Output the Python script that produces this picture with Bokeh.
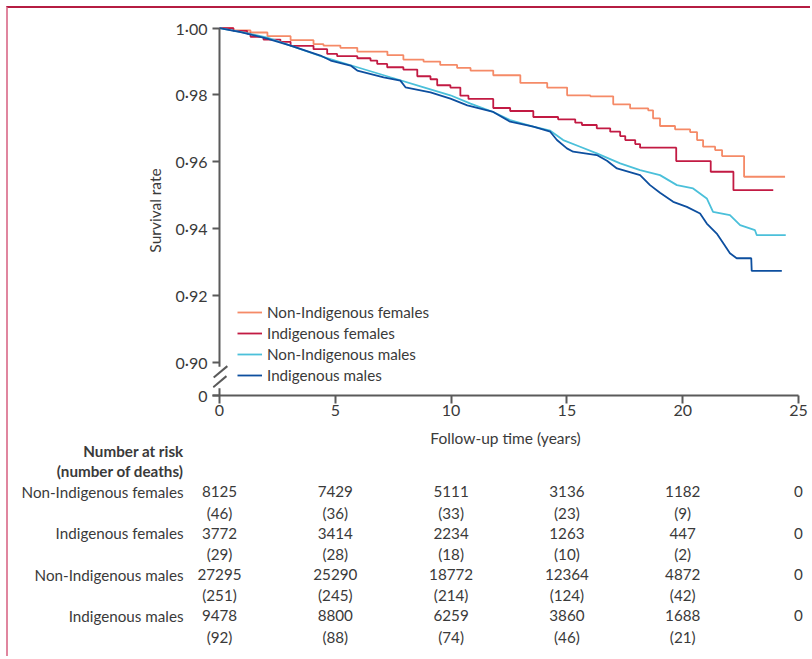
from bokeh.plotting import figure
from bokeh.models import (Range1d, FixedTicker, CustomJSTickFormatter, Legend,
                          LegendItem, ColumnDataSource)
from bokeh.embed import file_html
from bokeh.resources import INLINE
from bokeh.core.properties import value

# ---------------- data ----------------
groups = ["Non-Indigenous females", "Indigenous females",
          "Non-Indigenous males", "Indigenous males"]
colors = ["#f58a67", "#c21a43", "#4bc0da", "#0d4f9f"]

nif_t = [0, 0.6, 1.34, 2.07, 3.07, 4.06, 4.49, 5.22, 5.95, 7.25, 7.94, 8.81, 9.53,
         10.26, 10.84, 11.82, 12.99, 14.15, 15.01, 16.01, 17.00, 17.73, 18.51, 18.72,
         19.02, 19.67, 20.32, 20.62, 20.88, 21.40, 21.70, 22.65, 24.42]
nif_s = [1.0, 0.9993, 0.9987, 0.9976, 0.9964, 0.9952, 0.9948, 0.9941, 0.9930, 0.9919,
         0.9906, 0.9900, 0.9890, 0.9881, 0.9873, 0.9859, 0.9836, 0.9822, 0.9799, 0.9796,
         0.9772, 0.9760, 0.9754, 0.9730, 0.9707, 0.9697, 0.9689, 0.9665, 0.9645, 0.9635,
         0.9617, 0.9555, 0.9555]

if_t = [0, 0.6, 1.19, 1.34, 1.90, 2.63, 3.07, 4.06, 4.65, 5.08, 5.95, 6.52, 6.81, 7.24,
        7.94, 8.54, 9.11, 9.40, 9.97, 10.40, 10.75, 11.82, 12.55, 13.55, 14.62, 15.36,
        15.65, 16.29, 16.87, 17.30, 17.52, 17.95, 18.16, 19.72, 21.21, 22.19, 23.91]
if_s = [1.0, 0.9992, 0.9984, 0.9974, 0.9966, 0.9959, 0.9947, 0.9937, 0.9923, 0.9916,
        0.9910, 0.9903, 0.9893, 0.9883, 0.9876, 0.9856, 0.9847, 0.9829, 0.9822, 0.9798,
        0.9788, 0.9761, 0.9752, 0.9734, 0.9727, 0.9717, 0.9710, 0.9700, 0.9690, 0.9677,
        0.9665, 0.9653, 0.9642, 0.9602, 0.9570, 0.9515, 0.9515]

nim_t = [0, 0.91, 2.06, 3.07, 4.50, 5.95, 7.38, 8.82, 9.97, 10.84, 11.82, 12.55, 13.55,
         14.28, 14.84, 15.57, 16.29, 17.30, 18.16, 19.02, 19.75, 20.45, 21.04, 21.31,
         22.04, 22.48, 23.12, 23.20, 24.45]
nim_s = [1.0, 0.9989, 0.9972, 0.9948, 0.9913, 0.9883, 0.9853, 0.9823, 0.9799, 0.9774,
         0.9749, 0.9725, 0.9705, 0.9693, 0.9665, 0.9645, 0.9625, 0.9595, 0.9575, 0.9560,
         0.9530, 0.9520, 0.9490, 0.9450, 0.9440, 0.9410, 0.9395, 0.9380, 0.9380]

im_t = [0, 0.91, 2.06, 3.07, 4.36, 4.80, 5.66, 5.95, 7.09, 7.81, 8.03, 9.11, 9.97,
        10.70, 11.82, 12.55, 13.55, 14.28, 14.57, 15.00, 15.27, 16.29, 16.73, 17.16,
        18.16, 18.59, 19.02, 19.59, 20.18, 20.75, 21.04, 21.47, 21.76, 22.04, 22.33,
        22.96, 22.98, 24.28]
im_s = [1.0, 0.9988, 0.9969, 0.9948, 0.9918, 0.9903, 0.9888, 0.9873, 0.9853, 0.9843,
        0.9823, 0.9808, 0.9789, 0.9769, 0.9749, 0.9720, 0.9705, 0.9690, 0.9665, 0.9640,
        0.9630, 0.9620, 0.9603, 0.9580, 0.9560, 0.9530, 0.9507, 0.9480, 0.9465, 0.9445,
        0.9415, 0.9385, 0.9355, 0.9326, 0.9311, 0.9311, 0.9273, 0.9273]

x_ticks = [0, 5, 10, 15, 20, 25]
y_zero_pos = 0.89          # where "0" sits on the broken axis
y_ticks = [y_zero_pos, 0.90, 0.92, 0.94, 0.96, 0.98, 1.00]

risk_times = [0, 5, 10, 15, 20, 25]
death_times = [0, 5, 10, 15, 20]
nif_risk = [8125, 7429, 5111, 3136, 1182, 0]
nif_deaths = [46, 36, 33, 23, 9]
if_risk = [3772, 3414, 2234, 1263, 447, 0]
if_deaths = [29, 28, 18, 10, 2]
nim_risk = [27295, 25290, 18772, 12364, 4872, 0]
nim_deaths = [251, 245, 214, 124, 42]
im_risk = [9478, 8800, 6259, 3860, 1688, 0]
im_deaths = [92, 88, 74, 46, 21]
table_header = ["Number at risk", "(number of deaths)"]

# ---------------- styling / layout constants ----------------
FONT = "Lato"
TXT = "#3a3a3a"
AX = "#5a5a5a"
LEFT = 204
FRAME_W = 586
RIGHT = 14
TOP = 17
FRAME_H = 370
BOTTOM = 58
TOTAL_W = LEFT + FRAME_W + RIGHT
X_LO = -0.302
Y_HI = 1.0008
PPY = FRAME_W / (25 - X_LO)            # px per year

p = figure(width=TOTAL_W, height=TOP + FRAME_H + BOTTOM, output_backend="svg",
           toolbar_location=None, x_range=Range1d(X_LO, 25),
           y_range=Range1d(y_zero_pos, Y_HI),
           min_border_left=LEFT, min_border_right=RIGHT, min_border_top=TOP,
           min_border_bottom=BOTTOM,
           styles={"margin-left": "6px", "margin-top": "6px",
                   "border-top": "2px solid #b51c42",
                   "border-left": "2px solid #e0869f"})
p.outline_line_color = None
p.xgrid.visible = False
p.ygrid.visible = False

renderers = []
r = p.step(nif_t, nif_s, mode="after", line_color=colors[0], line_width=1.8)
renderers.append(r)
r = p.step(if_t, if_s, mode="after", line_color=colors[1], line_width=1.8)
renderers.append(r)
r = p.line(nim_t, nim_s, line_color=colors[2], line_width=1.8)
renderers.append(r)
r = p.line(im_t, im_s, line_color=colors[3], line_width=1.8)
renderers.append(r)

# y-axis line with break marks
p.segment(x0=[0, 0, -0.25, -0.27], y0=[1.0, 0.8922, 0.8954, 0.8925],
          x1=[0, 0, 0.34, 0.30], y1=[0.8986, y_zero_pos, 0.8988, 0.8958],
          line_color=AX, line_width=2)

xa = p.xaxis[0]
xa.ticker = FixedTicker(ticks=x_ticks)
xa.minor_tick_line_color = None
xa.major_tick_out = 8
xa.major_tick_in = 0
xa.axis_line_color = AX
xa.axis_line_width = 2
xa.major_tick_line_color = AX
xa.major_tick_line_width = 2
xa.major_label_text_font = FONT
xa.major_label_text_font_size = "16px"
xa.major_label_text_color = TXT
xa.major_label_standoff = 1
xa.axis_label = "Follow-up time (years)"
xa.axis_label_text_font = FONT
xa.axis_label_text_font_size = "15.5px"
xa.axis_label_text_font_style = "normal"
xa.axis_label_text_color = TXT
xa.axis_label_standoff = 10

ya = p.yaxis[0]
ya.ticker = FixedTicker(ticks=y_ticks)
ya.formatter = CustomJSTickFormatter(code="""
if (tick < 0.895) { return "0"; }
return tick.toFixed(2).replace(".", "\u00b7");
""")
ya.minor_tick_line_color = None
ya.major_tick_in = 7
ya.major_tick_out = 0
ya.axis_line_color = None
ya.major_tick_line_color = AX
ya.major_tick_line_width = 2
ya.major_label_text_font = FONT
ya.major_label_text_font_size = "16px"
ya.major_label_text_color = TXT
ya.major_label_standoff = 5
ya.axis_label = "Survival rate"
ya.axis_label_text_font = FONT
ya.axis_label_text_font_size = "15.5px"
ya.axis_label_text_font_style = "normal"
ya.axis_label_text_color = TXT
ya.axis_label_standoff = 9

legend = Legend(items=[LegendItem(label=g, renderers=[rr]) for g, rr in zip(groups, renderers)],
                location=(25, 10), glyph_width=25, glyph_height=20, label_height=20,
                spacing=1, padding=0, margin=0, border_line_color=None,
                background_fill_alpha=0, label_standoff=5, label_text_font=FONT,
                label_text_font_size="15.2px", label_text_color=TXT)
p.add_layout(legend)

# ---------------- number at risk table (separate figure below) ----------------
T_H = 218
OVERLAP = 13     # px the table figure slides up under the x-axis area
ROW0 = 12        # px from the table figure's top to its first line
ROW_H = 20.67    # px between table lines
tx0 = X_LO - LEFT / PPY
tx1 = tx0 + TOTAL_W / PPY

t = figure(width=TOTAL_W, height=T_H, output_backend="svg", toolbar_location=None,
           x_range=Range1d(tx0, tx1),
           y_range=Range1d((T_H - ROW0) / ROW_H, -ROW0 / ROW_H),
           x_axis_location=None, y_axis_location=None,
           min_border_left=0, min_border_right=0, min_border_top=0, min_border_bottom=0,
           styles={"margin-left": "6px", "margin-top": f"-{OVERLAP}px",
                   "border-left": "2px solid #e0869f"})
t.xgrid.visible = False
t.ygrid.visible = False
t.outline_line_color = None
t.background_fill_alpha = 0
t.border_fill_alpha = 0

label_x = X_LO - 29 / PPY
t.text(x=[label_x, label_x], y=[0, 1], text=table_header,
       text_align="right", text_baseline="middle", text_font=value(FONT),
       text_font_size="15.2px", text_font_style="bold", text_color=TXT)

risks = [nif_risk, if_risk, nim_risk, im_risk]
deaths = [nif_deaths, if_deaths, nim_deaths, im_deaths]
lx, ly, lt = [], [], []
cx, cy, ct = [], [], []
for i, g in enumerate(groups):
    row = 2 + 2 * i
    lx.append(label_x); ly.append(row); lt.append(g)
    for tt, n in zip(risk_times, risks[i]):
        cx.append(tt); cy.append(row); ct.append(f"{n}")
    for tt, d in zip(death_times, deaths[i]):
        cx.append(tt); cy.append(row + 1); ct.append(f"({d})")

t.text(x="x", y="y", text="text", source=ColumnDataSource(dict(x=lx, y=ly, text=lt)),
       text_align="right", text_baseline="middle", text_font=value(FONT),
       text_font_size="15.2px", text_color=TXT)
t.text(x="x", y="y", text="text", source=ColumnDataSource(dict(x=cx, y=cy, text=ct)),
       text_align="center", text_baseline="middle", text_font=value(FONT),
       text_font_size="15.2px", text_color=TXT)

open("out.html", "w").write(file_html([p, t], INLINE))
